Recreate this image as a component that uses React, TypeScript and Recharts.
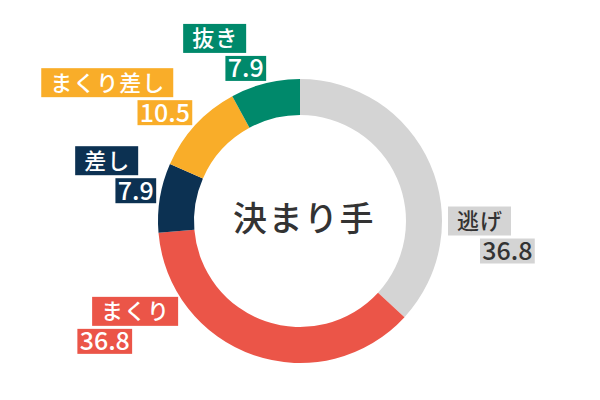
import { PieChart, Pie, Cell } from "recharts";

const CATEGORIES = ["逃げ", "まくり", "差し", "まくり差し", "抜き"];
const VALUES = [36.8, 36.8, 7.9, 10.5, 7.9];
const COLORS = ["#d4d4d4", "#eb5548", "#0c3152", "#f9ad29", "#00896b"];
const TEXT_COLORS = ["#333333", "#ffffff", "#ffffff", "#ffffff", "#ffffff"];

// Nudge from the mid-angle anchor to the label junction, and where the
// name box sits relative to the value box (outer edge).
const LABEL_LAYOUT: Record<string, { dx: number; dy: number; nameShift: number }> = {
  逃げ: { dx: 33.5, dy: 80.3, nameShift: -32 },
  まくり: { dx: -116, dy: -45, nameShift: 46 },
  差し: { dx: 14, dy: -18, nameShift: -18 },
  まくり差し: { dx: 10, dy: -14, nameShift: -19 },
  抜き: { dx: 5.5, dy: -11.5, nameShift: -20 },
};

const FONT = '"Noto Sans CJK JP", "Noto Sans", sans-serif';
const NAME_SIZE = 22;
const NAME_SPACING = 1;
const NAME_PAD = 9;
const VALUE_SIZE = 25;
const RADIAN = Math.PI / 180;

const chartData = CATEGORIES.map((name, i) => ({
  name,
  value: VALUES[i],
  color: COLORS[i],
  text: TEXT_COLORS[i],
}));

function valueWidth(s: string): number {
  let w = 0;
  for (const ch of s) w += ch === "." ? 0.27 * VALUE_SIZE : 0.56 * VALUE_SIZE;
  return w + 6;
}

function renderLabel(props: any) {
  const { cx, cy, midAngle, outerRadius, payload } = props;
  const name: string = payload.name;
  const layout = LABEL_LAYOUT[name];
  const r = outerRadius + 18;
  const px = cx + r * Math.cos(-midAngle * RADIAN);
  const py = cy + r * Math.sin(-midAngle * RADIAN);
  const jx = px + layout.dx;
  const jy = py + layout.dy;
  const rightSide = jx > cx;

  const valueText = Number(payload.value).toFixed(1);
  const vw = valueWidth(valueText);
  const nw = [...name].length * (NAME_SIZE + NAME_SPACING) - NAME_SPACING + NAME_PAD * 2;

  // value box
  const vx = rightSide ? jx : jx - vw;
  const vy = jy + 1.5;
  const vh = 25;
  // name box
  const nx = rightSide ? jx + layout.nameShift : jx + layout.nameShift - nw;
  const nh = 29;
  const ny = jy - 1.5 - nh;

  return (
    <g key={`label-${name}`}>
      <rect x={nx} y={ny} width={nw} height={nh} fill={payload.color} />
      <text
        x={nx + nw / 2 + NAME_SPACING / 2}
        y={ny + nh / 2 + NAME_SIZE * 0.36}
        textAnchor="middle"
        fill={payload.text}
        fontSize={NAME_SIZE}
        fontWeight={500}
        fontFamily={FONT}
        letterSpacing={NAME_SPACING}
      >
        {name}
      </text>
      <rect x={vx} y={vy} width={vw} height={vh} fill={payload.color} />
      <text
        x={vx + vw / 2}
        y={vy + vh / 2 + VALUE_SIZE * 0.36}
        textAnchor="middle"
        fill={payload.text}
        fontSize={VALUE_SIZE}
        fontWeight={500}
        fontFamily={FONT}
      >
        {valueText}
      </text>
    </g>
  );
}

export default function App() {
  return (
    <div style={{ position: "absolute", left: 0, top: 0, width: 600, height: 400, background: "#fff" }}>
      <PieChart width={600} height={400} margin={{ top: 0, right: 0, bottom: 0, left: 0 }}>
        <Pie
          data={chartData}
          dataKey="value"
          nameKey="name"
          cx={300}
          cy={221}
          innerRadius={106}
          outerRadius={142}
          startAngle={90}
          endAngle={-270}
          stroke="none"
          label={renderLabel}
          labelLine={false}
          isAnimationActive={false}
        >
          {chartData.map((d) => (
            <Cell key={d.name} fill={d.color} />
          ))}
        </Pie>
        <text
          x={304}
          y={231}
          textAnchor="middle"
          fill="#333333"
          fontSize={34}
          fontWeight={500}
          fontFamily={FONT}
          letterSpacing={1.5}
        >
          決まり手
        </text>
      </PieChart>
    </div>
  );
}
